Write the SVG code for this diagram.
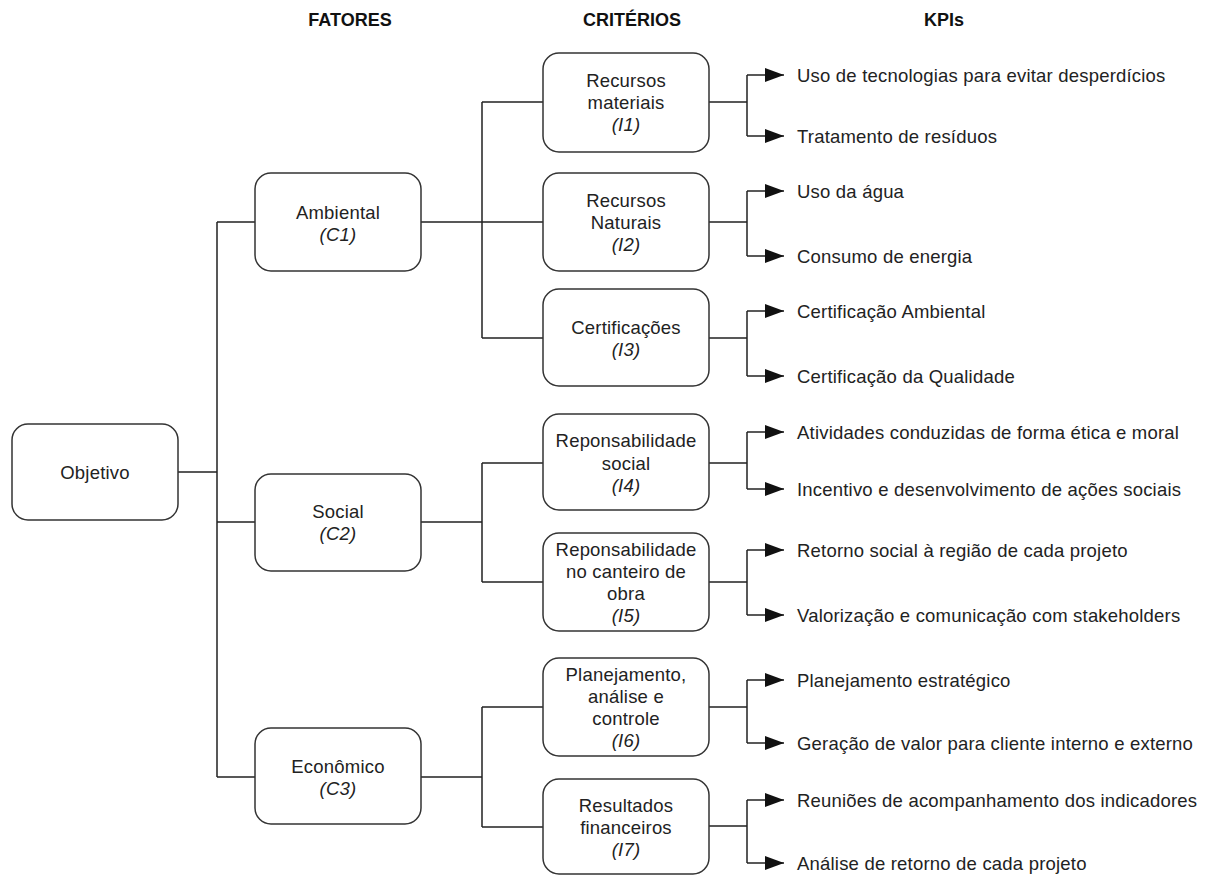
<svg xmlns="http://www.w3.org/2000/svg" width="1215" height="876" viewBox="0 0 1215 876">
<style>
.box{fill:#fff;stroke:#333;stroke-width:1.5}
.t{font-family:"Liberation Sans",Arial,sans-serif;font-size:18.5px;letter-spacing:0.2px;fill:#222;text-anchor:middle;dominant-baseline:central}
.i{font-style:italic}
.k{font-family:"Liberation Sans",Arial,sans-serif;font-size:18.5px;letter-spacing:0.2px;fill:#222;dominant-baseline:central}
.h{font-family:"Liberation Sans",Arial,sans-serif;font-size:18px;font-weight:bold;fill:#111;text-anchor:middle;dominant-baseline:central}
.c{fill:none;stroke:#222;stroke-width:1.5}
</style>
<defs>
<marker id="ah" markerUnits="userSpaceOnUse" markerWidth="20" markerHeight="14" refX="19" refY="7" orient="auto">
<path d="M0,0 L19,7 L0,14 z" fill="#111"/>
</marker>
</defs>
<rect width="1215" height="876" fill="#fff"/>
<g id="headers">
<text class="h" x="350" y="20">FATORES</text>
<text class="h" x="632" y="20">CRITÉRIOS</text>
<text class="h" x="944" y="20">KPIs</text>
</g>
<g id="connectors">
<path class="c" d="M178,472 H217 M217,222 V777 M217,222 H255 M217,522 H255 M217,777 H255"/>
<path class="c" d="M421,222 H543 M482,102 V338 M482,102 H543 M482,338 H543"/>
<path class="c" d="M421,522 H482 M482,463 V582 M482,463 H543 M482,582 H543"/>
<path class="c" d="M421,777 H482 M482,707 V827 M482,707 H543 M482,827 H543"/>
<path class="c" d="M709,102 H747 M747,75 V136 M709,222 H747 M747,191 V256 M709,338 H747 M747,311 V376 M709,463 H747 M747,432 V489 M709,582 H747 M747,550 V615 M709,707 H747 M747,680 V743 M709,826 H747 M747,800 V863"/>
<g marker-end="url(#ah)">
<path class="c" d="M747,75 H784"/>
<path class="c" d="M747,136 H784"/>
<path class="c" d="M747,191 H784"/>
<path class="c" d="M747,256 H784"/>
<path class="c" d="M747,311 H784"/>
<path class="c" d="M747,376 H784"/>
<path class="c" d="M747,432 H784"/>
<path class="c" d="M747,489 H784"/>
<path class="c" d="M747,550 H784"/>
<path class="c" d="M747,615 H784"/>
<path class="c" d="M747,680 H784"/>
<path class="c" d="M747,743 H784"/>
<path class="c" d="M747,800 H784"/>
<path class="c" d="M747,863 H784"/>
</g>
</g>
<g id="objetivo">
<rect class="box" x="12" y="424" width="166" height="96" rx="16"/>
<text class="t" x="95" y="472">Objetivo</text>
</g>
<g id="c1">
<rect class="box" x="255" y="173" width="166" height="98" rx="16"/>
<text class="t" x="338" y="212">Ambiental</text>
<text class="t i" x="338" y="234">(C1)</text>
</g>
<g id="c2">
<rect class="box" x="255" y="474" width="166" height="97" rx="16"/>
<text class="t" x="338" y="511">Social</text>
<text class="t i" x="338" y="533">(C2)</text>
</g>
<g id="c3">
<rect class="box" x="255" y="728" width="166" height="96" rx="16"/>
<text class="t" x="338" y="766">Econômico</text>
<text class="t i" x="338" y="788">(C3)</text>
</g>
<g id="i1">
<rect class="box" x="543" y="53" width="166" height="99" rx="16"/>
<text class="t" x="626" y="80">Recursos</text>
<text class="t" x="626" y="102">materiais</text>
<text class="t i" x="626" y="124">(I1)</text>
</g>
<g id="i2">
<rect class="box" x="543" y="173" width="166" height="98" rx="16"/>
<text class="t" x="626" y="200">Recursos</text>
<text class="t" x="626" y="222">Naturais</text>
<text class="t i" x="626" y="244">(I2)</text>
</g>
<g id="i3">
<rect class="box" x="543" y="289" width="166" height="97" rx="16"/>
<text class="t" x="626" y="327">Certificações</text>
<text class="t i" x="626" y="349">(I3)</text>
</g>
<g id="i4">
<rect class="box" x="543" y="414" width="166" height="96" rx="16"/>
<text class="t" x="626" y="440">Reponsabilidade</text>
<text class="t" x="626" y="463">social</text>
<text class="t i" x="626" y="485">(I4)</text>
</g>
<g id="i5">
<rect class="box" x="543" y="533" width="166" height="98" rx="16"/>
<text class="t" x="626" y="549">Reponsabilidade</text>
<text class="t" x="626" y="571">no canteiro de</text>
<text class="t" x="626" y="593">obra</text>
<text class="t i" x="626" y="615">(I5)</text>
</g>
<g id="i6">
<rect class="box" x="543" y="658" width="166" height="98" rx="16"/>
<text class="t" x="626" y="674">Planejamento,</text>
<text class="t" x="626" y="696">análise e</text>
<text class="t" x="626" y="718">controle</text>
<text class="t i" x="626" y="740">(I6)</text>
</g>
<g id="i7">
<rect class="box" x="543" y="779" width="166" height="95" rx="16"/>
<text class="t" x="626" y="805">Resultados</text>
<text class="t" x="626" y="827">financeiros</text>
<text class="t i" x="626" y="849">(I7)</text>
</g>
<g id="kpis">
<text class="k" x="797" y="75">Uso de tecnologias para evitar desperdícios</text>
<text class="k" x="797" y="136">Tratamento de resíduos</text>
<text class="k" x="797" y="191">Uso da água</text>
<text class="k" x="797" y="256">Consumo de energia</text>
<text class="k" x="797" y="311">Certificação Ambiental</text>
<text class="k" x="797" y="376">Certificação da Qualidade</text>
<text class="k" x="797" y="432">Atividades conduzidas de forma ética e moral</text>
<text class="k" x="797" y="489">Incentivo e desenvolvimento de ações sociais</text>
<text class="k" x="797" y="550">Retorno social à região de cada projeto</text>
<text class="k" x="797" y="615">Valorização e comunicação com stakeholders</text>
<text class="k" x="797" y="680">Planejamento estratégico</text>
<text class="k" x="797" y="743">Geração de valor para cliente interno e externo</text>
<text class="k" x="797" y="800">Reuniões de acompanhamento dos indicadores</text>
<text class="k" x="797" y="863">Análise de retorno de cada projeto</text>
</g>
</svg>
